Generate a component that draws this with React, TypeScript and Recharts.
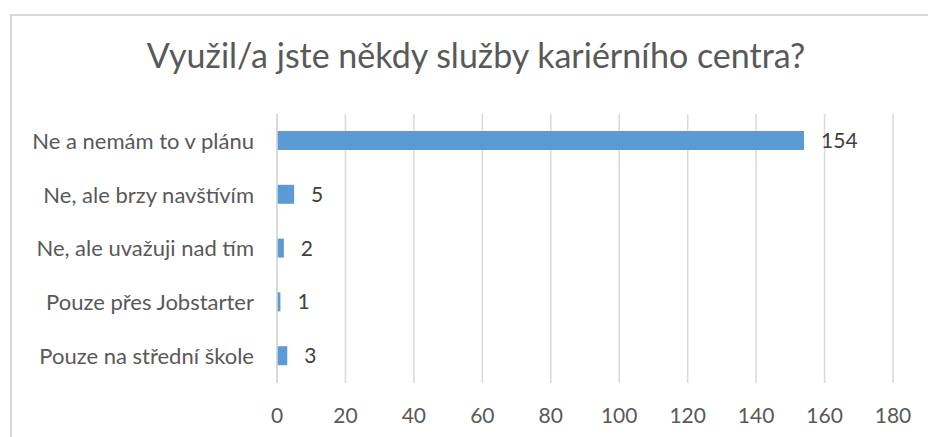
import React from 'react';
import { BarChart, Bar, XAxis, YAxis, CartesianGrid, LabelList } from 'recharts';

const categories = [
  'Ne a nemám to v plánu',
  'Ne, ale brzy navštívím',
  'Ne, ale uvažuji nad tím',
  'Pouze přes Jobstarter',
  'Pouze na střední škole',
];
const values = [154, 5, 2, 1, 3];
const xTicks = [0, 20, 40, 60, 80, 100, 120, 140, 160, 180];
const title = 'Využil/a jste někdy služby kariérního centra?';

const data = categories.map((c, i) => ({ name: c, value: values[i] }));

const FONT = 'Lato, "Noto Sans", sans-serif';

export default function App() {
  return (
    <div style={{ position: 'absolute', left: 0, top: 0, width: 928, height: 437, overflow: 'hidden', background: '#fff' }}>
      <div
        style={{
          position: 'absolute',
          left: 10,
          top: 14,
          width: 940,
          height: 460,
          border: '2px solid #D9D9D9',
          boxSizing: 'border-box',
        }}
      />
      <svg width={928} height={100} style={{ position: 'absolute', left: 0, top: 0 }}>
        <text x={476} y={68} textAnchor="middle" fontFamily={FONT} fontSize={34} fill="#595959">
          {title}
        </text>
      </svg>
      <div style={{ position: 'absolute', left: 0, top: 0 }}>
        <BarChart
          width={928}
          height={437}
          data={data}
          layout="vertical"
          margin={{ top: 114, right: 35, bottom: 0, left: 0 }}
        >
          <CartesianGrid horizontal={false} stroke="#D9D9D9" strokeWidth={1.5} />
          <XAxis
            type="number"
            domain={[0, 180]}
            ticks={xTicks}
            height={54}
            axisLine={false}
            tickLine={false}
            tickSize={0}
            tickMargin={25}
            tick={{ fill: '#595959', fontSize: 21, fontFamily: FONT }}
            interval={0}
          />
          <YAxis
            type="category"
            dataKey="name"
            width={277}
            axisLine={{ stroke: '#D9D9D9', strokeWidth: 1.5 }}
            tickLine={false}
            tickSize={0}
            tickMargin={23}
            tick={{ fill: '#595959', fontSize: 22, fontFamily: FONT }}
            interval={0}
          />
          <Bar dataKey="value" fill="#5B9BD5" barSize={19} isAnimationActive={false}>
            <LabelList
              dataKey="value"
              position="right"
              offset={17}
              fill="#404040"
              fontSize={21}
              fontFamily={FONT}
            />
          </Bar>
        </BarChart>
      </div>
    </div>
  );
}
